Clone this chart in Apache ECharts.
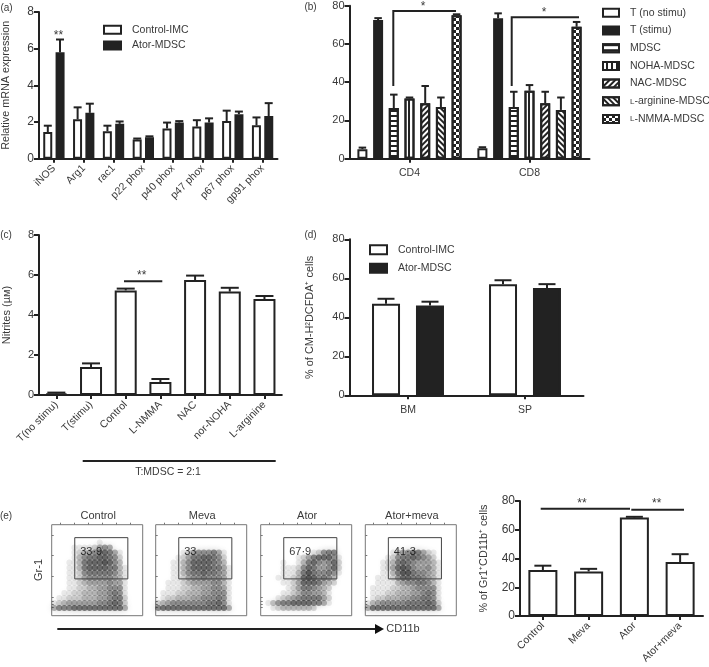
<!DOCTYPE html>
<html><head><meta charset="utf-8">
<style>html,body{margin:0;padding:0;background:#fff}#c{width:709px;height:667px;filter:blur(0.35px)}</style>
<script src="https://cdn.jsdelivr.net/npm/echarts@6/dist/echarts.min.js"></script>
</head><body><div id="c"></div>
<script>
// ---------- panel (a)
const aCategories = ['iNOS','Arg1','rac1','p22 phox','p40 phox','p47 phox','p67 phox','gp91 phox'];
const aControl    = [1.45,2.15,1.5,1.05,1.65,1.75,2.05,1.82];
const aControlErr = [1.8,2.8,1.8,1.1,1.97,2.1,2.62,2.25];
const aAtor       = [5.8,2.5,1.9,1.17,1.97,1.97,2.43,2.33];
const aAtorErr    = [6.5,3.0,2.03,1.22,2.05,2.2,2.57,3.03];
// ---------- panel (b)
const bCategories = ['CD4','CD8'];
const bNames = ['T (no stimu)','T (stimu)','MDSC','NOHA-MDSC','NAC-MDSC','L-arginine-MDSC','L-NMMA-MDSC'];
const bTnoStimu = [5,5.5],   bTnoStimuErr = [5.8,6];
const bTstimu   = [72.5,73.5], bTstimuErr = [73.5,76];
const bMDSC     = [26.5,27], bMDSCErr = [33.5,35];
const bNOHA     = [31.5,35.5], bNOHAErr = [32,38.5];
const bNAC      = [29,29],   bNACErr = [38,35];
const bArg      = [27,25.5], bArgErr = [32,32];
const bNMMA     = [75,69],   bNMMAErr = [75.5,71.5];
// ---------- panel (c)
const cCategories = ['T(no stimu)','T(stimu)','Control','L-NMMA','NAC','nor-NOHA','L-arginine'];
const cValues = [0.08,1.4,5.23,0.65,5.75,5.17,4.8];
const cErr    = [0.12,1.58,5.32,0.8,5.97,5.36,4.95];
// ---------- panel (d)
const dCategories = ['BM','SP'];
const dControl = [47,57], dControlErr = [49.5,59];
const dAtor    = [46,55], dAtorErr    = [48,57];
// ---------- panel (e) bars
const eCategories = ['Control','Meva','Ator','Ator+meva'];
const eValues = [32,31,68.5,37.5];
const eErr    = [35,32.8,69,43];
// ---------- panel (e) flow plots: density, one digit per 5x5 cell
const flowTitles = ['Control','Meva','Ator','Ator+meva'];
const flowGateLabels = ['33·9','33','67·9','41·3'];
const densityControl = [
'000000000000000000','000000000000000000','000000000000000000','000000000100000000',
'000011112454000000','000012345676410000','000013566776520000','000113677787530000',
'000113677776631000','000112566666531000','000112455555431000','000112344445441000',
'000112233445551000','001122333445651000','011222333445662000','123444444556762000',
'466677777777774000','000000000000000000'];
const densityMeva = [
'000000000000000000','000000000000000000','000000000000000000','000000000000000000',
'000000000000000000','000001245556410000','000012466776520000','000113577776530000',
'000113577776641000','000113566766541000','000112455655541000','001112344445531000',
'001112233445541000','011122333445551000','012233344555651000','234555555566751000',
'677777777777774000','000000000000000000'];
const densityAtor = [
'000000000000000000','000000000000000000','000000000000000000','000000000000000000',
'000000000000000000','000000000012566000','000000012467775100','000010013675457200',
'000011125764457200','000011136865565100','000111237875653000','000011247776432000',
'000001246654320000','000011235544310000','000123456666420000','013566777766410000',
'001233333320000000','000000000000000000'];
const densityAtorMeva = [
'000000000000000000','000000000000000000','000000000000000000','000000000000000000',
'000000000000000000','000001345664210000','000012566765420000','000123676544431000',
'000124787544531000','000113688655431000','001112577665431000','001111345566531000',
'011112233455551000','011122333445651000','012233344556651000','134555556666762000',
'477777777777774000','000000000000000000'];
const flowDensities = [densityControl,densityMeva,densityAtor,densityAtorMeva];
const gateX = [22.8,75.3,75.3,22.8,22.8];
const gateY = [12.8,12.8,53.6,53.6,12.8];

const INK='#222', TXT='#3a3a3a', FONT='"Liberation Sans",Arial,sans-serif';
const grids=[],xAxes=[],yAxes=[],series=[],graphic=[],legends=[];

function addPanel(box,cats,max,interval,opt){
  const i=grids.length; opt=opt||{};
  grids.push({left:box[0],top:box[1],width:box[2],height:box[3]});
  const al={lineStyle:{color:INK,width:2}}, tk={show:true,length:5,lineStyle:{color:INK,width:2}};
  xAxes.push({gridIndex:i,type:'category',data:cats,axisLine:al,
    axisTick:Object.assign({alignWithLabel:true},tk,{length:4}),
    axisLabel:{interval:0,rotate:opt.rotate||0,color:TXT,fontFamily:FONT,fontSize:opt.xFont||10.5,margin:opt.xMargin||8}});
  yAxes.push({gridIndex:i,type:'value',min:0,max:max,interval:interval,splitLine:{show:false},
    axisLine:Object.assign({show:true},al),axisTick:tk,
    axisLabel:{color:TXT,fontFamily:FONT,fontSize:opt.yFont||11,margin:5},
    name:opt.title||'',nameLocation:'middle',nameGap:opt.titleGap||28,
    nameTextStyle:{color:TXT,fontFamily:FONT,fontSize:opt.titleFont||10.5}});
  return i;
}
function addBars(i,name,vals,tops,style,barW,gap,offset,cap){
  series.push({type:'bar',name:name,xAxisIndex:i,yAxisIndex:i,data:vals,barWidth:barW,barGap:gap,
    itemStyle:Object.assign({borderColor:INK,borderWidth:2,color:'#fff'},style),silent:true});
  series.push({type:'custom',xAxisIndex:i,yAxisIndex:i,silent:true,z:1,
    encode:{x:0,y:1},data:vals.map((v,k)=>[k,tops[k],v]),
    renderItem(p,api){
      const t=api.coord([api.value(0),api.value(1)]), b=api.coord([api.value(0),api.value(2)]);
      const x=t[0]+offset, st={stroke:INK,lineWidth:2,fill:null};
      return {type:'group',children:[
        {type:'line',shape:{x1:x,y1:t[1],x2:x,y2:b[1]},style:st},
        {type:'line',shape:{x1:x-cap/2,y1:t[1],x2:x+cap/2,y2:t[1]},style:st}]};
    }});
}
const solid={color:INK};
const hatch=(rot,size)=>({decal:{symbol:'rect',symbolSize:1,dashArrayX:[[1,0]],dashArrayY:size||[1.5,2],rotation:rot,color:INK}});
const horizontal=hatch(0,[1.5,2.8]), vertical=hatch(Math.PI/2,[1.5,2.8]),
      rising=hatch(-Math.PI/4), falling=hatch(Math.PI/4);
const checker={decal:{symbol:'rect',symbolSize:1,dashArrayX:[[3,3],[0,3,3,0]],dashArrayY:[3,0],rotation:0,color:INK}};

function addLegend(names,left,top,w,h,gap,font){
  legends.push({show:true,selectedMode:false,orient:'vertical',left:left,top:top,padding:0,itemWidth:w,itemHeight:h,itemGap:gap,icon:'rect',
    data:names,formatter:n=>n.replace(/^L-/,'{s|L}-'),
    textStyle:{color:TXT,fontFamily:FONT,fontSize:font,padding:[0,0,0,6],rich:{s:{fontSize:font-2.5,color:TXT,fontFamily:FONT,padding:[0,0,0,0]}}}});
}
function text(t,x,y,o){graphic.push(Object.assign({type:'text',left:x,top:y,silent:true,style:Object.assign({text:t,fill:TXT,font:'10.5px '+FONT,verticalAlign:'middle'},o||{})}));}
function ctext(t,x,y,font){graphic.push({type:'text',x:x,y:y,silent:true,style:{text:t,fill:TXT,font:(font||10.5)+'px '+FONT,align:'center',verticalAlign:'middle'}});}
function poly(pts,w){graphic.push({type:'polyline',silent:true,shape:{points:pts},style:{stroke:INK,lineWidth:w||2,fill:null}});}

// (a)
let p=addPanel([37.5,12,240,146.7],aCategories,8,2,{rotate:45,title:'Relative mRNA expression',titleFont:10.8,titleGap:27,xFont:10.5,xMargin:8,yFont:12});
addBars(p,'Control-IMC',aControl,aControlErr,{},9,'37%',-6.1,8);
addBars(p,'Ator-MDSC',aAtor,aAtorErr,solid,9,'37%',6.1,8);
addLegend(['Control-IMC','Ator-MDSC'],103,24.3,17,8,4.7,10.5);
ctext('(a)',6.5,8,10); ctext('**',58.5,36,12);

// (b)
p=addPanel([349.5,5.7,240,153],bCategories,80,20,{xFont:10.5,xMargin:9});
const bw=10,bg='57%',st=15.7;
[[bNames[0],bTnoStimu,bTnoStimuErr,{}],[bNames[1],bTstimu,bTstimuErr,solid],[bNames[2],bMDSC,bMDSCErr,horizontal],
 [bNames[3],bNOHA,bNOHAErr,vertical],[bNames[4],bNAC,bNACErr,rising],[bNames[5],bArg,bArgErr,falling],[bNames[6],bNMMA,bNMMAErr,checker]]
 .forEach((s,k)=>addBars(p,s[0],s[1],s[2],s[3],bw,bg,(k-3)*st,7.5));
addLegend(bNames,602,7.3,16,8,6.7,10.5);
ctext('(b)',310.5,7,10);
poly([[393.3,86],[393.3,11],[456,11]]); poly([[511.7,86],[511.7,17.3],[579,17.3]]);
ctext('*',423,7,12); ctext('*',544,12.5,12);

// (c)
p=addPanel([37.5,235,244.3,160],cCategories,8,2,{rotate:45,title:'Nitrites (µм)',titleFont:11,titleGap:27,xFont:10.5,xMargin:8});
addBars(p,'Nitrites',cValues,cErr,{},22,'0%',0,18);
ctext('(c)',6,235,10); ctext('**',141.7,276,12);
poly([[124,281.3],[162.3,281.3]]); poly([[82.7,461],[275.7,461]]);
ctext('T:MDSC = 2:1',168,472.5,10.5);

// (d)
p=addPanel([349.5,239.3,234,156],dCategories,80,20,{title:'% of CM-H²DCFDA⁺ cells',titleFont:10.9,titleGap:34,xFont:10.5,xMargin:9});
addBars(p,'Control-IMC',dControl,dControlErr,{},28,'57%',-22,17);
addBars(p,'Ator-MDSC',dAtor,dAtorErr,solid,28,'57%',22,17);
addLegend(['Control-IMC','Ator-MDSC'],369,244.3,17,9,7.4,10.5);
ctext('(d)',310.5,235,10);

// (e) bars
p=addPanel([520,501,183,115],eCategories,80,20,{rotate:45,title:'% of Gr1⁺CD11b⁺ cells',titleFont:10.8,titleGap:30,xFont:10.5,xMargin:8,yFont:12});
addBars(p,'Gr1 CD11b',eValues,eErr,{},29,'0%',0,17);
poly([[540.7,508.7],[630,508.7]]); poly([[631.3,509.7],[684,509.7]]);
ctext('**',582,504,12); ctext('**',656.7,504,12);

// (e) flow plots
const flowLeft=[51.7,155.7,260.7,365.3];
flowDensities.forEach((rows,f)=>{
  const i=grids.length;
  grids.push({left:flowLeft[f],top:524.7,width:91,height:91,show:true,borderColor:'#777',borderWidth:1,backgroundColor:'transparent'});
  const tick={show:true,inside:true,length:2,lineStyle:{color:'#777',width:1}};
  xAxes.push({gridIndex:i,type:'value',min:0,max:90,axisLabel:{show:false},splitLine:{show:false},axisLine:{show:false},
    axisTick:Object.assign({customValues:[8,22,36,50,64,78]},tick)});
  yAxes.push({gridIndex:i,type:'value',min:0,max:90,inverse:true,axisLabel:{show:false},splitLine:{show:false},axisLine:{show:false},
    axisTick:Object.assign({customValues:[10,30,51,72,76,79,82]},tick)});
  const cells=[];
  rows.forEach((r,ry)=>[...r].forEach((d,cx)=>{ if(+d>0) cells.push([cx*5+2.5,ry*5+2.5,+d]); }));
  series.push({type:'scatter',xAxisIndex:i,yAxisIndex:i,data:cells,symbol:'circle',symbolSize:6,silent:true,
    itemStyle:{color:q=>'rgba(30,30,30,'+(q.value[2]*0.1).toFixed(3)+')',shadowBlur:6,shadowColor:'rgba(30,30,30,0.4)'}});
  series.push({type:'line',xAxisIndex:i,yAxisIndex:i,data:gateX.map((x,k)=>[x,gateY[k]]),symbol:'none',silent:true,z:5,
    lineStyle:{color:'#444',width:1}});
  text(flowGateLabels[f],flowLeft[f]+28.5,546,{font:'11px '+FONT});
  ctext(flowTitles[f],flowLeft[f]+46.5,515.5,11);
});
ctext('(e)',6,516,10);
graphic.push({type:'text',x:38.5,y:570,rotation:Math.PI/2,silent:true,style:{text:'Gr-1',fill:TXT,font:'11px '+FONT,align:'center',verticalAlign:'middle'}});
poly([[57.3,629],[376,629]],2.2);
graphic.push({type:'polygon',silent:true,shape:{points:[[375,624],[384,629],[375,634]]},style:{fill:'#111'}});
ctext('CD11b',403,628.5,11);

const chart=echarts.init(document.getElementById('c'),null,{renderer:'canvas'});
chart.setOption({animation:false,backgroundColor:'#fff',legend:legends,grid:grids,xAxis:xAxes,yAxis:yAxes,series:series,graphic:{elements:graphic}});
</script></body></html>
